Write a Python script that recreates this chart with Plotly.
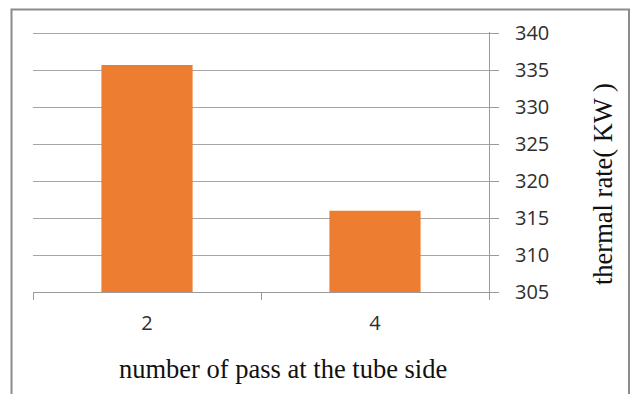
import plotly.graph_objects as go

# Thermal rate by number of tube-side passes
passes = ["2", "4"]
thermal_rate = [335.7, 316.0]
y_ticks = [305, 310, 315, 320, 325, 330, 335, 340]

W, H = 634, 394
L, R, T, B = 33, 145, 32, 102
plot_w = W - L - R
plot_h = H - T - B


def px_x(px):
    return (px - L) / plot_w


def px_y(py):
    return (H - B - py) / plot_h


fig = go.Figure(
    go.Bar(
        x=passes,
        y=thermal_rate,
        marker=dict(color="#ED7D31", line=dict(width=0)),
        width=0.4,
    )
)

tick_font = dict(family="Open Sans, Liberation Sans, sans-serif", size=20, color="#2e2e2e")
title_font = dict(family="Liberation Serif, Times New Roman, serif", size=26.5, color="#111111")

fig.update_layout(
    width=W,
    height=H,
    margin=dict(l=L, r=R, t=T, b=B, pad=0),
    paper_bgcolor="white",
    plot_bgcolor="white",
    showlegend=False,
    xaxis=dict(
        type="category",
        tickson="boundaries",
        ticks="outside",
        ticklen=7,
        tickcolor="#9a9a9a",
        showline=True,
        linecolor="#9a9a9a",
        linewidth=1,
        showgrid=False,
        tickfont=tick_font,
        ticklabelstandoff=13,
    ),
    yaxis=dict(
        side="right",
        # a hair of headroom keeps the 340 gridline from being clipped at the edge
        range=[305, 340.15],
        tickvals=y_ticks,
        ticks="outside",
        ticklen=9,
        tickcolor="#9a9a9a",
        showline=True,
        linecolor="#9a9a9a",
        linewidth=1,
        showgrid=True,
        gridcolor="#a6a6a6",
        gridwidth=1,
        zeroline=False,
        tickfont=tick_font,
        ticklabelstandoff=12,
    ),
    annotations=[
        dict(
            text="number of pass at the tube side",
            xref="paper", yref="paper",
            x=px_x(283), y=px_y(369),
            xanchor="center", yanchor="middle",
            showarrow=False,
            font=title_font,
        ),
        dict(
            text="thermal rate( KW )",
            xref="paper", yref="paper",
            x=px_x(603), y=px_y(184),
            xanchor="center", yanchor="middle",
            textangle=-90,
            showarrow=False,
            font=title_font,
        ),
    ],
    shapes=[
        dict(
            type="rect",
            xref="paper", yref="paper",
            x0=px_x(11.5), x1=px_x(629),
            y0=px_y(430), y1=px_y(9.5),
            line=dict(color="#8c8c8c", width=2),
            fillcolor="rgba(0,0,0,0)",
            layer="below",
        )
    ],
)

fig.write_html("out.html")
